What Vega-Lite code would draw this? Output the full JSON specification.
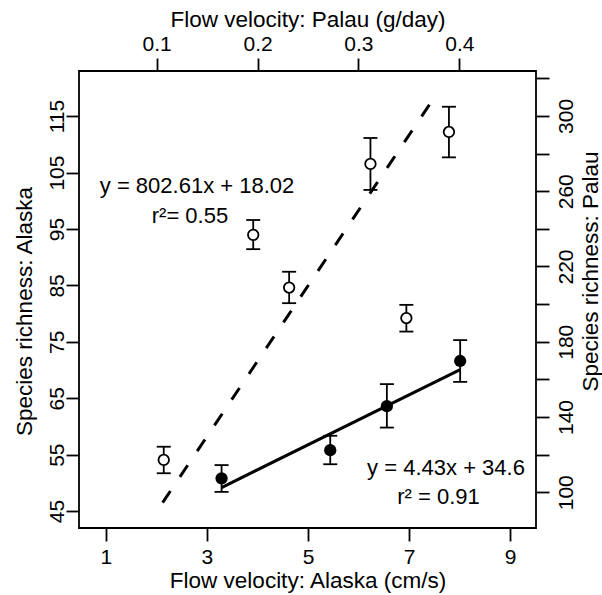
{
  "$schema": "https://vega.github.io/schema/vega-lite/v6.json",
  "width": 457,
  "height": 457,
  "autosize": {"type": "none"},
  "padding": {"left": 79, "top": 71, "right": 66, "bottom": 67},
  "background": "white",
  "config": {
    "font": "Liberation Sans",
    "view": {"stroke": "black", "strokeWidth": 1.8},
    "axis": {
      "grid": false, "domain": false, "tickColor": "black", "tickWidth": 1.8, "tickSize": 13,
      "labelFont": "Liberation Sans", "labelFontSize": 21, "labelColor": "black",
      "titleFont": "Liberation Sans", "titleFontSize": 22.5, "titleFontWeight": "normal", "titleColor": "black",
      "labelFlush": false, "labelOverlap": false, "labelBaseline": "alphabetic", "titleBaseline": "alphabetic"
    }
  },
  "datasets": {
    "alaska": [
      {"velocity": 3.29, "richness": 50.8, "lower": 48.4, "upper": 53.15},
      {"velocity": 5.44, "richness": 55.8, "lower": 53.3, "upper": 58.35},
      {"velocity": 6.56, "richness": 63.6, "lower": 59.8, "upper": 67.5},
      {"velocity": 8.01, "richness": 71.6, "lower": 67.9, "upper": 75.3}
    ],
    "alaskaFit": [
      {"velocity": 3.29, "richness": 49.17},
      {"velocity": 8.01, "richness": 70.08}
    ],
    "alaskaNote": [
      {"velocity": 7.73, "richness": 51.4, "label": "y = 4.43x + 34.6"},
      {"velocity": 7.58, "richness": 46.2, "label": "r² = 0.91"}
    ],
    "palau": [
      {"flow": 0.107, "species": 117.2, "lower": 110.1, "upper": 124.2},
      {"flow": 0.1957, "species": 236.8, "lower": 229.2, "upper": 244.7},
      {"flow": 0.2313, "species": 208.8, "lower": 200.5, "upper": 217.2},
      {"flow": 0.3119, "species": 274.5, "lower": 260.7, "upper": 288.3},
      {"flow": 0.3475, "species": 192.6, "lower": 185.4, "upper": 199.6},
      {"flow": 0.3897, "species": 291.5, "lower": 278.0, "upper": 304.9}
    ],
    "palauFit": [
      {"flow": 0.1059, "species": 94.5},
      {"flow": 0.378, "species": 312.1}
    ],
    "palauNote": [
      {"flow": 0.140, "species": 258.9, "label": "y = 802.61x + 18.02"},
      {"flow": 0.133, "species": 243.0, "label": "r²= 0.55"}
    ]
  },
  "layer": [
    {
      "layer": [
        {
          "data": {"name": "alaskaFit"},
          "mark": {"type": "line", "color": "black", "strokeWidth": 3, "strokeCap": "butt"},
          "encoding": {
            "x": {"field": "velocity", "type": "quantitative", "scale": {"domain": [0.47, 9.51], "nice": false, "zero": false},
              "axis": {"orient": "bottom", "values": [1, 3, 5, 7, 9], "title": "Flow velocity: Alaska (cm/s)", "labelAlign": "center", "labelPadding": 22.3, "titleY": 59}},
            "y": {"field": "richness", "type": "quantitative", "scale": {"domain": [42, 123], "nice": false, "zero": false},
              "axis": {"orient": "left", "values": [45, 55, 65, 75, 85, 95, 105, 115], "title": "Species richness: Alaska", "labelAngle": -90, "labelAlign": "center", "labelPadding": 2.5, "titleAngle": 270, "titleAlign": "center", "titleX": -48, "titleY": 240}}
          }
        },
        {
          "data": {"name": "alaska"},
          "mark": {"type": "rule", "color": "black", "strokeWidth": 1.8},
          "encoding": {
            "x": {"field": "velocity", "type": "quantitative", "scale": {"domain": [0.47, 9.51], "nice": false, "zero": false}, "title": "Flow velocity: Alaska (cm/s)"},
            "y": {"field": "lower", "type": "quantitative", "scale": {"domain": [42, 123], "nice": false, "zero": false}, "title": "Species richness: Alaska"},
            "y2": {"field": "upper"}
          }
        },
        {
          "data": {"name": "alaska"},
          "mark": {"type": "tick", "orient": "horizontal", "color": "black", "size": 14, "thickness": 1.8, "opacity": 1},
          "encoding": {
            "x": {"field": "velocity", "type": "quantitative", "scale": {"domain": [0.47, 9.51], "nice": false, "zero": false}, "title": "Flow velocity: Alaska (cm/s)"},
            "y": {"field": "lower", "type": "quantitative", "scale": {"domain": [42, 123], "nice": false, "zero": false}, "title": "Species richness: Alaska"}
          }
        },
        {
          "data": {"name": "alaska"},
          "mark": {"type": "tick", "orient": "horizontal", "color": "black", "size": 14, "thickness": 1.8, "opacity": 1},
          "encoding": {
            "x": {"field": "velocity", "type": "quantitative", "scale": {"domain": [0.47, 9.51], "nice": false, "zero": false}, "title": "Flow velocity: Alaska (cm/s)"},
            "y": {"field": "upper", "type": "quantitative", "scale": {"domain": [42, 123], "nice": false, "zero": false}, "title": "Species richness: Alaska"}
          }
        },
        {
          "data": {"name": "alaska"},
          "mark": {"type": "circle", "color": "black", "size": 150, "opacity": 1},
          "encoding": {
            "x": {"field": "velocity", "type": "quantitative", "scale": {"domain": [0.47, 9.51], "nice": false, "zero": false}, "title": "Flow velocity: Alaska (cm/s)"},
            "y": {"field": "richness", "type": "quantitative", "scale": {"domain": [42, 123], "nice": false, "zero": false}, "title": "Species richness: Alaska"}
          }
        },
        {
          "data": {"name": "alaskaNote"},
          "mark": {"type": "text", "color": "black", "font": "Liberation Sans", "fontSize": 22, "align": "center", "baseline": "alphabetic"},
          "encoding": {
            "x": {"field": "velocity", "type": "quantitative", "scale": {"domain": [0.47, 9.51], "nice": false, "zero": false}, "title": "Flow velocity: Alaska (cm/s)"},
            "y": {"field": "richness", "type": "quantitative", "scale": {"domain": [42, 123], "nice": false, "zero": false}, "title": "Species richness: Alaska"},
            "text": {"field": "label"}
          }
        }
      ]
    },
    {
      "layer": [
        {
          "data": {"name": "palauFit"},
          "mark": {"type": "line", "color": "black", "strokeWidth": 3, "strokeDash": [14, 17], "strokeCap": "butt"},
          "encoding": {
            "x": {"field": "flow", "type": "quantitative", "scale": {"domain": [0.023, 0.476], "nice": false, "zero": false},
              "axis": {"orient": "top", "values": [0.1, 0.2, 0.3, 0.4], "format": ".1f", "title": "Flow velocity: Palau (g/day)", "labelAlign": "center", "labelPadding": 8, "titleY": -45}},
            "y": {"field": "species", "type": "quantitative", "scale": {"domain": [81, 323.9], "nice": false, "zero": false},
              "axis": {"orient": "right", "values": [100, 120, 140, 160, 180, 200, 220, 240, 260, 280, 300, 320], "labelExpr": "datum.value % 40 == 0 ? '' : datum.label", "title": "Species richness: Palau", "labelAngle": -90, "labelAlign": "center", "labelPadding": 23.5, "titleAngle": 270, "titleAlign": "center", "titleX": 61, "titleY": 200}}
          }
        },
        {
          "data": {"name": "palau"},
          "mark": {"type": "rule", "color": "black", "strokeWidth": 1.8},
          "encoding": {
            "x": {"field": "flow", "type": "quantitative", "scale": {"domain": [0.023, 0.476], "nice": false, "zero": false}, "title": "Flow velocity: Palau (g/day)"},
            "y": {"field": "lower", "type": "quantitative", "scale": {"domain": [81, 323.9], "nice": false, "zero": false}, "title": "Species richness: Palau"},
            "y2": {"field": "upper"}
          }
        },
        {
          "data": {"name": "palau"},
          "mark": {"type": "tick", "orient": "horizontal", "color": "black", "size": 14, "thickness": 1.8, "opacity": 1},
          "encoding": {
            "x": {"field": "flow", "type": "quantitative", "scale": {"domain": [0.023, 0.476], "nice": false, "zero": false}, "title": "Flow velocity: Palau (g/day)"},
            "y": {"field": "lower", "type": "quantitative", "scale": {"domain": [81, 323.9], "nice": false, "zero": false}, "title": "Species richness: Palau"}
          }
        },
        {
          "data": {"name": "palau"},
          "mark": {"type": "tick", "orient": "horizontal", "color": "black", "size": 14, "thickness": 1.8, "opacity": 1},
          "encoding": {
            "x": {"field": "flow", "type": "quantitative", "scale": {"domain": [0.023, 0.476], "nice": false, "zero": false}, "title": "Flow velocity: Palau (g/day)"},
            "y": {"field": "upper", "type": "quantitative", "scale": {"domain": [81, 323.9], "nice": false, "zero": false}, "title": "Species richness: Palau"}
          }
        },
        {
          "data": {"name": "palau"},
          "mark": {"type": "circle", "fill": "white", "stroke": "black", "strokeWidth": 1.8, "size": 110, "opacity": 1},
          "encoding": {
            "x": {"field": "flow", "type": "quantitative", "scale": {"domain": [0.023, 0.476], "nice": false, "zero": false}, "title": "Flow velocity: Palau (g/day)"},
            "y": {"field": "species", "type": "quantitative", "scale": {"domain": [81, 323.9], "nice": false, "zero": false}, "title": "Species richness: Palau"}
          }
        },
        {
          "data": {"name": "palauNote"},
          "mark": {"type": "text", "color": "black", "font": "Liberation Sans", "fontSize": 22, "align": "center", "baseline": "alphabetic"},
          "encoding": {
            "x": {"field": "flow", "type": "quantitative", "scale": {"domain": [0.023, 0.476], "nice": false, "zero": false}, "title": "Flow velocity: Palau (g/day)"},
            "y": {"field": "species", "type": "quantitative", "scale": {"domain": [81, 323.9], "nice": false, "zero": false}, "title": "Species richness: Palau"},
            "text": {"field": "label"}
          }
        }
      ]
    }
  ],
  "resolve": {"scale": {"x": "independent", "y": "independent"}, "axis": {"x": "independent", "y": "independent"}}
}
